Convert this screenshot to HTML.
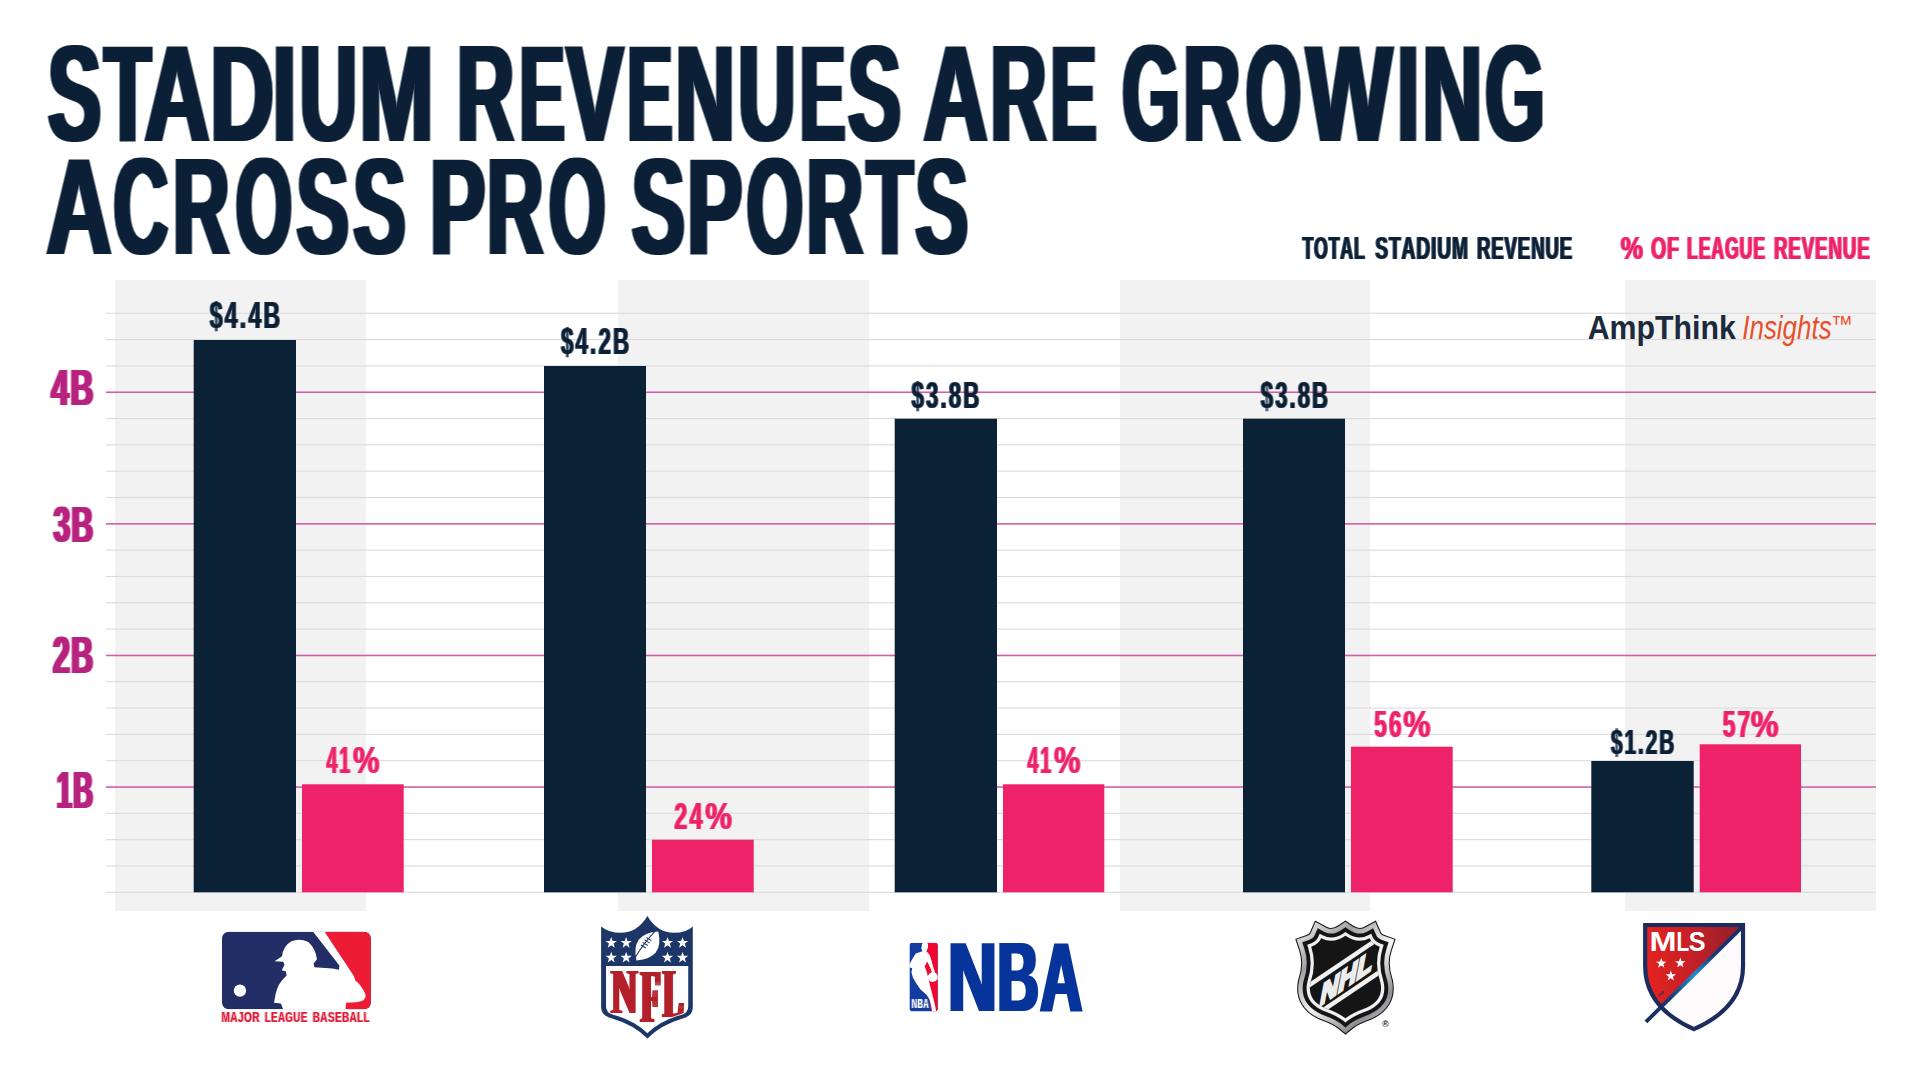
<!DOCTYPE html>
<html lang="en"><head><meta charset="utf-8"><title>Stadium revenues are growing across pro sports</title>
<style>
html,body{margin:0;padding:0;background:#fff;}
body{width:1920px;height:1080px;overflow:hidden;}
svg{display:block;}
text{font-kerning:none;white-space:pre;}
</style></head><body>
<svg width="1920" height="1080" viewBox="0 0 1920 1080">
<defs>
<filter id="e500" x="-5%" y="-10%" width="110%" height="120%" color-interpolation-filters="sRGB"><feMorphology in="SourceGraphic" operator="dilate" radius="2 0" result="a"/><feMorphology in="SourceGraphic" operator="dilate" radius="3 0" result="b"/><feComposite in="a" in2="b" operator="arithmetic" k1="0" k2="0.500" k3="0.500" k4="0"/></filter>
<filter id="e150" x="-5%" y="-10%" width="110%" height="120%" color-interpolation-filters="sRGB"><feMorphology in="SourceGraphic" operator="dilate" radius="1 0" result="b"/><feComposite in="SourceGraphic" in2="b" operator="arithmetic" k1="0" k2="0.250" k3="0.750" k4="0"/></filter>
<filter id="e300" x="-5%" y="-10%" width="110%" height="120%" color-interpolation-filters="sRGB"><feMorphology in="SourceGraphic" operator="dilate" radius="1 0" result="a"/><feMorphology in="SourceGraphic" operator="dilate" radius="2 0" result="b"/><feComposite in="a" in2="b" operator="arithmetic" k1="0" k2="0.500" k3="0.500" k4="0"/></filter>
<filter id="e130" x="-5%" y="-10%" width="110%" height="120%" color-interpolation-filters="sRGB"><feMorphology in="SourceGraphic" operator="dilate" radius="1 0" result="b"/><feComposite in="SourceGraphic" in2="b" operator="arithmetic" k1="0" k2="0.350" k3="0.650" k4="0"/></filter>
<filter id="e70" x="-5%" y="-10%" width="110%" height="120%" color-interpolation-filters="sRGB"><feMorphology in="SourceGraphic" operator="dilate" radius="1 0" result="b"/><feComposite in="SourceGraphic" in2="b" operator="arithmetic" k1="0" k2="0.650" k3="0.350" k4="0"/></filter>
<filter id="e400" x="-5%" y="-10%" width="110%" height="120%" color-interpolation-filters="sRGB"><feMorphology operator="dilate" radius="2 0"/></filter>
<filter id="e80" x="-5%" y="-10%" width="110%" height="120%" color-interpolation-filters="sRGB"><feMorphology in="SourceGraphic" operator="dilate" radius="1 0" result="b"/><feComposite in="SourceGraphic" in2="b" operator="arithmetic" k1="0" k2="0.600" k3="0.400" k4="0"/></filter>
</defs>
<rect width="1920" height="1080" fill="#ffffff"/>
<rect x="115.0" y="280" width="251.0" height="631" fill="#f2f2f2"/>
<rect x="618.0" y="280" width="251.3" height="631" fill="#f2f2f2"/>
<rect x="1120.0" y="280" width="250.3" height="631" fill="#f2f2f2"/>
<rect x="1625.0" y="280" width="251.0" height="631" fill="#f2f2f2"/>
<rect x="106" y="312.70" width="1770" height="1.1" fill="#dbdbdb"/>
<rect x="106" y="339.02" width="1770" height="1.1" fill="#dbdbdb"/>
<rect x="106" y="365.34" width="1770" height="1.1" fill="#dbdbdb"/>
<rect x="106" y="391.46" width="1770" height="1.6" fill="#d060a6"/>
<rect x="106" y="417.98" width="1770" height="1.1" fill="#dbdbdb"/>
<rect x="106" y="444.30" width="1770" height="1.1" fill="#dbdbdb"/>
<rect x="106" y="470.62" width="1770" height="1.1" fill="#dbdbdb"/>
<rect x="106" y="496.94" width="1770" height="1.1" fill="#dbdbdb"/>
<rect x="106" y="523.06" width="1770" height="1.6" fill="#d060a6"/>
<rect x="106" y="549.58" width="1770" height="1.1" fill="#dbdbdb"/>
<rect x="106" y="575.90" width="1770" height="1.1" fill="#dbdbdb"/>
<rect x="106" y="602.22" width="1770" height="1.1" fill="#dbdbdb"/>
<rect x="106" y="628.54" width="1770" height="1.1" fill="#dbdbdb"/>
<rect x="106" y="654.66" width="1770" height="1.6" fill="#d060a6"/>
<rect x="106" y="681.18" width="1770" height="1.1" fill="#dbdbdb"/>
<rect x="106" y="707.50" width="1770" height="1.1" fill="#dbdbdb"/>
<rect x="106" y="733.82" width="1770" height="1.1" fill="#dbdbdb"/>
<rect x="106" y="760.14" width="1770" height="1.1" fill="#dbdbdb"/>
<rect x="106" y="786.26" width="1770" height="1.6" fill="#d060a6"/>
<rect x="106" y="812.78" width="1770" height="1.1" fill="#dbdbdb"/>
<rect x="106" y="839.10" width="1770" height="1.1" fill="#dbdbdb"/>
<rect x="106" y="865.42" width="1770" height="1.1" fill="#dbdbdb"/>
<rect x="106" y="891.74" width="1770" height="1.1" fill="#dbdbdb"/>
<rect x="193.7" y="340.0" width="102.3" height="552.3" fill="#0a2136"/>
<rect x="544.0" y="366.0" width="102.0" height="526.3" fill="#0a2136"/>
<rect x="894.7" y="418.7" width="102.3" height="473.6" fill="#0a2136"/>
<rect x="1243.0" y="418.7" width="102.0" height="473.6" fill="#0a2136"/>
<rect x="1591.3" y="761.0" width="102.4" height="131.3" fill="#0a2136"/>
<rect x="302.0" y="784.3" width="101.7" height="108.0" fill="#ee2269"/>
<rect x="652.0" y="839.7" width="101.7" height="52.6" fill="#ee2269"/>
<rect x="1003.0" y="784.3" width="101.3" height="108.0" fill="#ee2269"/>
<rect x="1351.0" y="746.7" width="101.7" height="145.6" fill="#ee2269"/>
<rect x="1699.7" y="744.3" width="101.3" height="148.0" fill="#ee2269"/>
<text y="140.70" font-family='"Liberation Sans", Arial, sans-serif' font-weight="bold" font-style="normal" font-size="137.65" fill="#0b2036" filter="url(#e500)"><tspan x="47.91" textLength="53.10" lengthAdjust="spacingAndGlyphs">S</tspan><tspan x="104.14" textLength="46.68" lengthAdjust="spacingAndGlyphs">T</tspan><tspan x="144.46" textLength="65.02" lengthAdjust="spacingAndGlyphs">A</tspan><tspan x="210.37" textLength="63.53" lengthAdjust="spacingAndGlyphs">D</tspan><tspan x="272.68" textLength="23.34" lengthAdjust="spacingAndGlyphs">I</tspan><tspan x="299.63" textLength="57.31" lengthAdjust="spacingAndGlyphs">U</tspan><tspan x="359.46" textLength="73.98" lengthAdjust="spacingAndGlyphs">M</tspan> <tspan x="457.01" textLength="57.11" lengthAdjust="spacingAndGlyphs">R</tspan><tspan x="519.70" textLength="44.82" lengthAdjust="spacingAndGlyphs">E</tspan><tspan x="566.31" textLength="57.17" lengthAdjust="spacingAndGlyphs">V</tspan><tspan x="627.60" textLength="44.82" lengthAdjust="spacingAndGlyphs">E</tspan><tspan x="675.52" textLength="59.21" lengthAdjust="spacingAndGlyphs">N</tspan><tspan x="738.13" textLength="57.31" lengthAdjust="spacingAndGlyphs">U</tspan><tspan x="800.06" textLength="45.30" lengthAdjust="spacingAndGlyphs">E</tspan><tspan x="848.12" textLength="52.88" lengthAdjust="spacingAndGlyphs">S</tspan> <tspan x="923.59" textLength="64.15" lengthAdjust="spacingAndGlyphs">A</tspan><tspan x="990.42" textLength="55.97" lengthAdjust="spacingAndGlyphs">R</tspan><tspan x="1050.83" textLength="45.59" lengthAdjust="spacingAndGlyphs">E</tspan> <tspan x="1122.37" textLength="57.40" lengthAdjust="spacingAndGlyphs">G</tspan><tspan x="1183.20" textLength="57.17" lengthAdjust="spacingAndGlyphs">R</tspan><tspan x="1246.10" textLength="54.97" lengthAdjust="spacingAndGlyphs">O</tspan><tspan x="1306.16" textLength="85.83" lengthAdjust="spacingAndGlyphs">W</tspan><tspan x="1397.57" textLength="21.31" lengthAdjust="spacingAndGlyphs">I</tspan><tspan x="1422.57" textLength="59.70" lengthAdjust="spacingAndGlyphs">N</tspan><tspan x="1485.37" textLength="59.36" lengthAdjust="spacingAndGlyphs">G</tspan></text>
<text y="254.00" font-family='"Liberation Sans", Arial, sans-serif' font-weight="bold" font-style="normal" font-size="137.65" fill="#0b2036" filter="url(#e500)"><tspan x="46.51" textLength="65.07" lengthAdjust="spacingAndGlyphs">A</tspan><tspan x="113.39" textLength="54.68" lengthAdjust="spacingAndGlyphs">C</tspan><tspan x="173.07" textLength="56.43" lengthAdjust="spacingAndGlyphs">R</tspan><tspan x="235.78" textLength="56.25" lengthAdjust="spacingAndGlyphs">O</tspan><tspan x="296.49" textLength="52.38" lengthAdjust="spacingAndGlyphs">S</tspan><tspan x="353.14" textLength="52.44" lengthAdjust="spacingAndGlyphs">S</tspan> <tspan x="430.06" textLength="55.28" lengthAdjust="spacingAndGlyphs">P</tspan><tspan x="487.07" textLength="56.43" lengthAdjust="spacingAndGlyphs">R</tspan><tspan x="549.12" textLength="56.42" lengthAdjust="spacingAndGlyphs">O</tspan> <tspan x="631.71" textLength="53.10" lengthAdjust="spacingAndGlyphs">S</tspan><tspan x="687.18" textLength="55.04" lengthAdjust="spacingAndGlyphs">P</tspan><tspan x="746.64" textLength="56.20" lengthAdjust="spacingAndGlyphs">O</tspan><tspan x="806.45" textLength="56.66" lengthAdjust="spacingAndGlyphs">R</tspan><tspan x="866.65" textLength="46.26" lengthAdjust="spacingAndGlyphs">T</tspan><tspan x="915.22" textLength="52.88" lengthAdjust="spacingAndGlyphs">S</tspan></text>
<text y="259.30" font-family='"Liberation Sans", Arial, sans-serif' font-weight="bold" font-style="normal" font-size="31.98" fill="#0b2036" letter-spacing="1.50" filter="url(#e150)"><tspan x="1302.45" textLength="63.17" lengthAdjust="spacingAndGlyphs">TOTAL</tspan> <tspan x="1375.20" textLength="93.74" lengthAdjust="spacingAndGlyphs">STADIUM</tspan> <tspan x="1477.01" textLength="96.04" lengthAdjust="spacingAndGlyphs">REVENUE</tspan></text>
<text y="259.30" font-family='"Liberation Sans", Arial, sans-serif' font-weight="bold" font-style="normal" font-size="31.98" fill="#ee2269" letter-spacing="1.50" filter="url(#e150)"><tspan x="1620.73" textLength="23.35" lengthAdjust="spacingAndGlyphs">%</tspan> <tspan x="1650.95" textLength="28.93" lengthAdjust="spacingAndGlyphs">OF</tspan> <tspan x="1687.07" textLength="78.70" lengthAdjust="spacingAndGlyphs">LEAGUE</tspan> <tspan x="1773.90" textLength="96.66" lengthAdjust="spacingAndGlyphs">REVENUE</tspan></text>
<text y="405.40" font-family='"Liberation Sans", Arial, sans-serif' font-weight="bold" font-style="normal" font-size="49.27" fill="#b8227f" letter-spacing="2.50" filter="url(#e300)"><tspan x="51.22" textLength="43.62" lengthAdjust="spacingAndGlyphs">4B</tspan></text>
<text y="542.40" font-family='"Liberation Sans", Arial, sans-serif' font-weight="bold" font-style="normal" font-size="50.29" fill="#b8227f" letter-spacing="2.50" filter="url(#e300)"><tspan x="53.41" textLength="41.23" lengthAdjust="spacingAndGlyphs">3B</tspan></text>
<text y="672.80" font-family='"Liberation Sans", Arial, sans-serif' font-weight="bold" font-style="normal" font-size="51.16" fill="#b8227f" letter-spacing="2.50" filter="url(#e300)"><tspan x="53.05" textLength="41.60" lengthAdjust="spacingAndGlyphs">2B</tspan></text>
<text y="808.00" font-family='"Liberation Sans", Arial, sans-serif' font-weight="bold" font-style="normal" font-size="51.16" fill="#b8227f" letter-spacing="2.50" filter="url(#e300)"><tspan x="56.78" textLength="37.60" lengthAdjust="spacingAndGlyphs">1B</tspan></text>
<text y="328.40" font-family='"Liberation Sans", Arial, sans-serif' font-weight="bold" font-style="normal" font-size="36.63" fill="#0b2036" letter-spacing="3.50" filter="url(#e130)"><tspan x="209.85" textLength="72.34" lengthAdjust="spacingAndGlyphs">$4.4B</tspan></text>
<text y="353.50" font-family='"Liberation Sans", Arial, sans-serif' font-weight="bold" font-style="normal" font-size="36.63" fill="#0b2036" letter-spacing="3.50" filter="url(#e130)"><tspan x="560.96" textLength="70.35" lengthAdjust="spacingAndGlyphs">$4.2B</tspan></text>
<text y="408.30" font-family='"Liberation Sans", Arial, sans-serif' font-weight="bold" font-style="normal" font-size="37.06" fill="#0b2036" letter-spacing="3.50" filter="url(#e130)"><tspan x="911.56" textLength="70.01" lengthAdjust="spacingAndGlyphs">$3.8B</tspan></text>
<text y="408.30" font-family='"Liberation Sans", Arial, sans-serif' font-weight="bold" font-style="normal" font-size="37.06" fill="#0b2036" letter-spacing="3.50" filter="url(#e130)"><tspan x="1260.76" textLength="69.38" lengthAdjust="spacingAndGlyphs">$3.8B</tspan></text>
<text y="753.90" font-family='"Liberation Sans", Arial, sans-serif' font-weight="bold" font-style="normal" font-size="35.90" fill="#0b2036" letter-spacing="3.50" filter="url(#e130)"><tspan x="1610.98" textLength="65.33" lengthAdjust="spacingAndGlyphs">$1.2B</tspan></text>
<text y="773.00" font-family='"Liberation Sans", Arial, sans-serif' font-weight="bold" font-style="normal" font-size="37.06" fill="#ee2269" letter-spacing="3.50" filter="url(#e130)"><tspan x="326.45" textLength="25.49" lengthAdjust="spacingAndGlyphs">41</tspan><tspan x="353.01" textLength="29.23" lengthAdjust="spacingAndGlyphs">%</tspan></text>
<text y="829.00" font-family='"Liberation Sans", Arial, sans-serif' font-weight="bold" font-style="normal" font-size="37.06" fill="#ee2269" letter-spacing="3.50" filter="url(#e130)"><tspan x="674.24" textLength="30.45" lengthAdjust="spacingAndGlyphs">24</tspan><tspan x="705.20" textLength="29.46" lengthAdjust="spacingAndGlyphs">%</tspan></text>
<text y="773.00" font-family='"Liberation Sans", Arial, sans-serif' font-weight="bold" font-style="normal" font-size="37.06" fill="#ee2269" letter-spacing="3.50" filter="url(#e130)"><tspan x="1027.45" textLength="25.49" lengthAdjust="spacingAndGlyphs">41</tspan><tspan x="1054.01" textLength="29.23" lengthAdjust="spacingAndGlyphs">%</tspan></text>
<text y="736.70" font-family='"Liberation Sans", Arial, sans-serif' font-weight="bold" font-style="normal" font-size="37.21" fill="#ee2269" letter-spacing="3.50" filter="url(#e130)"><tspan x="1374.26" textLength="29.33" lengthAdjust="spacingAndGlyphs">56</tspan><tspan x="1403.29" textLength="30.16" lengthAdjust="spacingAndGlyphs">%</tspan></text>
<text y="736.50" font-family='"Liberation Sans", Arial, sans-serif' font-weight="bold" font-style="normal" font-size="36.63" fill="#ee2269" letter-spacing="3.50" filter="url(#e130)"><tspan x="1722.65" textLength="29.68" lengthAdjust="spacingAndGlyphs">57</tspan><tspan x="1750.87" textLength="30.79" lengthAdjust="spacingAndGlyphs">%</tspan></text>
<text font-family='"Liberation Sans", Arial, sans-serif'><tspan x="1587.75" y="338.60" font-weight="bold" font-style="normal" font-size="32.41" fill="#1b2a3c" textLength="148.02" lengthAdjust="spacingAndGlyphs">AmpThink</tspan> <tspan x="1742.27" y="338.60" font-weight="normal" font-style="italic" font-size="32.41" fill="#e8502b" textLength="89.36" lengthAdjust="spacingAndGlyphs">Insights</tspan><tspan x="1830.98" y="332.16" font-weight="normal" font-style="normal" font-size="23.78" fill="#e8502b" textLength="22.00" lengthAdjust="spacingAndGlyphs">™</tspan></text>

<g transform="translate(200,910) scale(0.12034)">
<clipPath id="mlbc"><rect x="182" y="180" width="1238" height="645" rx="58" ry="58"/></clipPath>
<g clip-path="url(#mlbc)"><rect x="182" y="180" width="1238" height="645" fill="#242e66"/>
<polygon points="1030,180 1420,180 1420,825 1205,825 1205,760 1275,545" fill="#ed1b34"/>
<path fill="#ffffff" d="M 692,826 L 672,776 L 615,770 L 628,700 Q 645,615 700,565 L 720,545 L 714,512 L 680,500 L 702,455 L 692,430 L 620,425 L 682,385 Q 690,300 760,260 Q 830,232 900,266 Q 960,320 972,410 L 945,442 L 950,476 L 1100,486 L 1155,497 L 1158,462 L 940,180 L 1035,180 L 1280,550 L 1290,585 Q 1340,620 1375,700 Q 1390,755 1300,766 L 1215,771 L 1208,826 Z"/>
<circle cx="332" cy="670" r="51" fill="#ffffff"/></g>
</g>
<g transform="translate(570,905) scale(0.12965)">
<path fill="#1c3668" d="M 240,165 Q 300,215 390,215 Q 520,215 597,85 Q 674,215 804,215 Q 894,215 947,165 L 947,790 Q 947,850 880,872 Q 700,925 597,1030 Q 494,925 314,872 Q 240,850 240,790 Z"/>
<path fill="#ffffff" d="M 278,470 L 912,470 L 912,785 Q 912,830 862,846 Q 690,893 597,990 Q 504,893 332,846 Q 278,830 278,785 Z"/>
<g fill="#ffffff">
<polygon points="318.0,246.0 328.8,277.1 361.7,277.8 335.5,297.7 345.0,329.2 318.0,310.4 291.0,329.2 300.5,297.7 274.3,277.8 307.2,277.1"/>
<polygon points="318.0,360.0 328.8,391.1 361.7,391.8 335.5,411.7 345.0,443.2 318.0,424.4 291.0,443.2 300.5,411.7 274.3,391.8 307.2,391.1"/>
<polygon points="433.0,246.0 443.8,277.1 476.7,277.8 450.5,297.7 460.0,329.2 433.0,310.4 406.0,329.2 415.5,297.7 389.3,277.8 422.2,277.1"/>
<polygon points="433.0,360.0 443.8,391.1 476.7,391.8 450.5,411.7 460.0,443.2 433.0,424.4 406.0,443.2 415.5,411.7 389.3,391.8 422.2,391.1"/>
<polygon points="752.0,246.0 762.8,277.1 795.7,277.8 769.5,297.7 779.0,329.2 752.0,310.4 725.0,329.2 734.5,297.7 708.3,277.8 741.2,277.1"/>
<polygon points="752.0,360.0 762.8,391.1 795.7,391.8 769.5,411.7 779.0,443.2 752.0,424.4 725.0,443.2 734.5,411.7 708.3,391.8 741.2,391.1"/>
<polygon points="868.0,246.0 878.8,277.1 911.7,277.8 885.5,297.7 895.0,329.2 868.0,310.4 841.0,329.2 850.5,297.7 824.3,277.8 857.2,277.1"/>
<polygon points="868.0,360.0 878.8,391.1 911.7,391.8 885.5,411.7 895.0,443.2 868.0,424.4 841.0,443.2 850.5,411.7 824.3,391.8 857.2,391.1"/>
</g>
<g transform="translate(597,316) rotate(37)"><path fill="#ffffff" d="M 0,-140 Q 82,-70 82,0 Q 82,70 0,140 Q -82,70 -82,0 Q -82,-70 0,-140 Z"/><g stroke="#1c3668" stroke-width="8" fill="none"><path d="M 0,-125 Q -14,0 0,125" transform="translate(-22,0)"/><path d="M -45,-48 L 0,-52 M -46,-24 L 0,-28 M -46,0 L 0,-4 M -45,24 L 0,20"/></g></g>
</g>
<g transform="translate(900,935) scale(0.07874)">
<clipPath id="nbac"><rect x="120" y="100" width="360" height="870" rx="40" ry="40"/></clipPath>
<g clip-path="url(#nbac)"><rect x="120" y="100" width="360" height="870" fill="#123c9f"/>
<polygon points="330,100 480,100 480,970 400,970 330,600 300,400" fill="#f2052f"/>
<path fill="#ffffff" d="M 298,98 L 347,98 Q 368,140 346,186 L 336,214 Q 376,236 392,300 L 426,420 L 446,478 Q 488,498 480,560 Q 442,612 386,592 Q 368,580 362,552 L 378,625 L 402,722 L 428,822 L 447,900 L 458,962 L 440,975 L 408,975 L 396,902 L 376,822 L 340,762 L 260,692 L 200,602 L 165,542 L 145,472 L 155,422 L 122,412 L 112,388 L 160,300 L 200,236 L 285,206 L 270,170 L 280,112 Z"/>
<path fill="#f2052f" d="M 346,336 L 313,396 L 336,456 L 353,520 Q 372,486 405,470 L 386,420 Z"/>
</g></g>
<g transform="translate(1270,905) scale(0.12965)">
<defs><linearGradient id="nhlg" gradientUnits="userSpaceOnUse" x1="200" y1="120" x2="960" y2="990"><stop offset="0" stop-color="#f4f4f4"/><stop offset="0.28" stop-color="#9fa2a5"/><stop offset="0.52" stop-color="#f6f6f6"/><stop offset="0.78" stop-color="#8d9093"/><stop offset="1" stop-color="#e4e4e4"/></linearGradient><clipPath id="nhlc"><path d="M 318,322 Q 375,302 395,256 Q 485,304 582,238 Q 679,304 769,256 Q 789,302 846,322 Q 802,455 852,600 Q 880,735 740,795 Q 630,835 582,874 Q 534,835 424,795 Q 284,735 312,600 Q 362,455 318,322 Z"/></clipPath></defs>
<path d="M 318,322 Q 375,302 395,256 Q 485,304 582,238 Q 679,304 769,256 Q 789,302 846,322 Q 802,455 852,600 Q 880,735 740,795 Q 630,835 582,874 Q 534,835 424,795 Q 284,735 312,600 Q 362,455 318,322 Z" fill="none" stroke="#151515" stroke-width="196" stroke-linejoin="miter" stroke-miterlimit="10"/>
<path d="M 318,322 Q 375,302 395,256 Q 485,304 582,238 Q 679,304 769,256 Q 789,302 846,322 Q 802,455 852,600 Q 880,735 740,795 Q 630,835 582,874 Q 534,835 424,795 Q 284,735 312,600 Q 362,455 318,322 Z" fill="none" stroke="url(#nhlg)" stroke-width="180" stroke-linejoin="miter" stroke-miterlimit="10"/>
<path d="M 318,322 Q 375,302 395,256 Q 485,304 582,238 Q 679,304 769,256 Q 789,302 846,322 Q 802,455 852,600 Q 880,735 740,795 Q 630,835 582,874 Q 534,835 424,795 Q 284,735 312,600 Q 362,455 318,322 Z" fill="none" stroke="#151515" stroke-width="110" stroke-linejoin="miter" stroke-miterlimit="10"/>
<path d="M 318,322 Q 375,302 395,256 Q 485,304 582,238 Q 679,304 769,256 Q 789,302 846,322 Q 802,455 852,600 Q 880,735 740,795 Q 630,835 582,874 Q 534,835 424,795 Q 284,735 312,600 Q 362,455 318,322 Z" fill="none" stroke="#f0f0f0" stroke-width="50" stroke-linejoin="miter" stroke-miterlimit="10"/>
<path d="M 318,322 Q 375,302 395,256 Q 485,304 582,238 Q 679,304 769,256 Q 789,302 846,322 Q 802,455 852,600 Q 880,735 740,795 Q 630,835 582,874 Q 534,835 424,795 Q 284,735 312,600 Q 362,455 318,322 Z" fill="#151515"/>
<g clip-path="url(#nhlc)"><g transform="translate(582,560) rotate(-34)"><rect x="-500" y="-124" width="1000" height="34" fill="#f0f0f0"/><rect x="-500" y="95" width="1000" height="34" fill="#f0f0f0"/></g></g>
</g>
<g transform="translate(1620,905) scale(0.12965)">
<defs><linearGradient id="mlsr" x1="0" y1="0" x2="1" y2="0"><stop offset="0" stop-color="#e5231f"/><stop offset="0.45" stop-color="#c62026"/><stop offset="1" stop-color="#8f1f2c"/></linearGradient><linearGradient id="mlsd" gradientUnits="userSpaceOnUse" x1="945" y1="165" x2="200" y2="900"><stop offset="0" stop-color="#1b2c5d"/><stop offset="0.3" stop-color="#1b3a73"/><stop offset="0.5" stop-color="#1a8fd0"/><stop offset="0.75" stop-color="#1b3a73"/><stop offset="1" stop-color="#1b2c5d"/></linearGradient><clipPath id="mlsc"><path d="M 194,154 L 949,154 L 949,470 Q 949,790 570,958 Q 194,790 194,470 Z"/></clipPath></defs>
<path d="M 194,154 L 949,154 L 949,470 Q 949,790 570,958 Q 194,790 194,470 Z" fill="#fdfbfc"/>
<g clip-path="url(#mlsc)"><polygon points="194,154 951,154 194,911" fill="url(#mlsr)"/></g>
<line x1="945" y1="166" x2="200" y2="902" stroke="url(#mlsd)" stroke-width="30"/>
<path d="M 194,154 L 949,154 L 949,470 Q 949,790 570,958 Q 194,790 194,470 Z" fill="none" stroke="#1b2c5d" stroke-width="32" stroke-linejoin="miter"/>
<g fill="#ffffff"><polygon points="318.0,408.0 327.9,436.4 357.9,437.0 334.0,455.2 342.7,484.0 318.0,466.8 293.3,484.0 302.0,455.2 278.1,437.0 308.1,436.4"/><polygon points="465.0,405.0 474.9,433.4 504.9,434.0 481.0,452.2 489.7,481.0 465.0,463.8 440.3,481.0 449.0,452.2 425.1,434.0 455.1,433.4"/><polygon points="392.0,506.0 401.9,534.4 431.9,535.0 408.0,553.2 416.7,582.0 392.0,564.8 367.3,582.0 376.0,553.2 352.1,535.0 382.1,534.4"/></g>
</g>
<text y="1022.30" font-family='"Liberation Sans", Arial, sans-serif' font-weight="bold" font-style="normal" font-size="15.55" fill="#e31b37" letter-spacing="0.60" filter="url(#e70)"><tspan x="221.58" textLength="38.27" lengthAdjust="spacingAndGlyphs">MAJOR</tspan> <tspan x="264.70" textLength="42.81" lengthAdjust="spacingAndGlyphs">LEAGUE</tspan> <tspan x="312.78" textLength="57.26" lengthAdjust="spacingAndGlyphs">BASEBALL</tspan></text>
<clipPath id="nflc"><path transform="translate(570,905) scale(0.12965)" d="M 284,476 L 906,476 L 906,785 Q 906,826 858,840 Q 690,886 597,982 Q 504,886 336,840 Q 284,826 284,785 Z"/></clipPath><g clip-path="url(#nflc)"><text font-family='"Liberation Serif", "Times New Roman", serif' font-weight="bold" fill="#b4202a" filter="url(#e400)"><tspan x="611.53" y="1013.00" font-size="63.99" textLength="25.54" lengthAdjust="spacingAndGlyphs">N</tspan><tspan x="641.06" y="1021.50" font-size="76.97" textLength="19.25" lengthAdjust="spacingAndGlyphs">F</tspan><tspan x="663.29" y="1016.80" font-size="69.79" textLength="20.08" lengthAdjust="spacingAndGlyphs">L</tspan></text></g>
<text y="1011.00" font-family='"Liberation Sans", Arial, sans-serif' font-weight="bold" font-style="normal" font-size="98.84" fill="#07349a" filter="url(#e400)"><tspan x="947.96" textLength="49.01" lengthAdjust="spacingAndGlyphs">N</tspan><tspan x="997.58" textLength="41.21" lengthAdjust="spacingAndGlyphs">B</tspan><tspan x="1040.36" textLength="41.87" lengthAdjust="spacingAndGlyphs">A</tspan></text>
<text y="1007.50" font-family='"Liberation Sans", Arial, sans-serif' font-weight="bold" font-style="normal" font-size="11.92" fill="#ffffff" letter-spacing="0.50" filter="url(#e80)"><tspan x="911.80" textLength="17.11" lengthAdjust="spacingAndGlyphs">NBA</tspan></text>
<text y="951.40" font-family='"Liberation Sans", Arial, sans-serif' font-weight="bold" font-style="normal" font-size="28.20" fill="#ffffff"><tspan x="1649.63" textLength="27.04" lengthAdjust="spacingAndGlyphs">M</tspan><tspan x="1676.61" textLength="12.74" lengthAdjust="spacingAndGlyphs">L</tspan><tspan x="1688.67" textLength="16.81" lengthAdjust="spacingAndGlyphs">S</tspan></text>
<text transform="translate(1661.3,999.2) rotate(-45)" font-family='"Liberation Sans", Arial, sans-serif' font-weight="bold" font-size="7.5" fill="#1b2c5d">&#8482;</text>
<text transform="translate(1270,905) scale(0.12965) matrix(0.78,-0.545,-0.19,0.982,376,782)" font-family='"Liberation Sans", Arial, sans-serif' font-weight="bold" font-size="250" fill="#ececec" stroke="#ececec" stroke-width="24" stroke-linejoin="miter">NHL</text>
<text x="1382" y="1026.5" font-family='"Liberation Sans", Arial, sans-serif' font-weight="bold" font-size="9" fill="#2a2a2a">&#174;</text>

</svg>
</body></html>
